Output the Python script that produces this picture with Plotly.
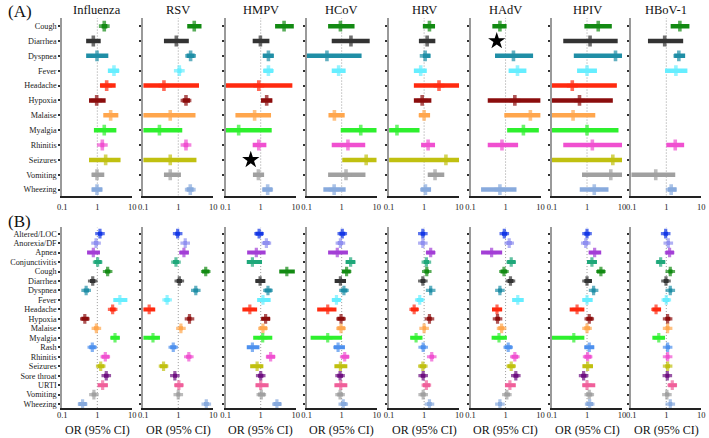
import plotly.graph_objects as go

viruses = ["Influenza", "RSV", "HMPV", "HCoV", "HRV", "HAdV", "HPIV", "HBoV-1"]

symptoms_a = ["Cough", "Diarrhea", "Dyspnea", "Fever", "Headache", "Hypoxia", "Malaise",
              "Myalgia", "Rhinitis", "Seizures", "Vomiting", "Wheezing"]
symptoms_b = ["Altered/LOC", "Anorexia/DF", "Apnea", "Conjunctivitis", "Cough", "Diarrhea",
              "Dyspnea", "Fever", "Headache", "Hypoxia", "Malaise", "Myalgia", "Rash",
              "Rhinitis", "Seizures", "Sore throat", "URTI", "Vomiting", "Wheezing"]

colors = {
    "Altered/LOC": "#1438e6", "Anorexia/DF": "#8f8ff0", "Apnea": "#a33fd6",
    "Conjunctivitis": "#1fa87a", "Cough": "#138a13", "Diarrhea": "#333333",
    "Dyspnea": "#1f8ea6", "Fever": "#66eeff", "Headache": "#ff2a0f", "Hypoxia": "#8b0d0d",
    "Malaise": "#ffa64d", "Myalgia": "#2ef02e", "Rash": "#4d90ee", "Rhinitis": "#f050d0",
    "Seizures": "#c0c010", "Sore throat": "#6e0f80", "URTI": "#f0609a",
    "Vomiting": "#a0a0a0", "Wheezing": "#88aadd",
}

N = None
# Panel A: [OR, lower, upper] per symptom (order of symptoms_a); None = not shown
a_influenza = [[1.58, 1.33, 1.93], [0.77, 0.48, 1.25], [0.98, 0.48, 2.06], [2.99, 2.0, 4.16],
               [1.85, 1.19, 3.34], [0.96, 0.58, 1.73], [2.4, 1.48, 3.98], [1.58, 0.8, 3.49],
               [1.39, 1.22, 1.58], [1.73, 0.58, 4.6], [0.98, 0.69, 1.58], [0.98, 0.69, 1.39]]
a_rsv = [[2.86, 1.8, 4.6], [0.88, 0.39, 2.0], [2.25, 1.73, 2.93], [1.07, 0.94, 1.24],
         [0.39, 0.1, 3.9], [1.66, 1.33, 2.15], [0.59, 0.1, 3.1], [0.29, 0.1, 1.3],
         [1.66, 1.42, 1.93], [0.59, 0.1, 3.3], [0.59, 0.39, 1.19], [2.2, 1.73, 2.74]]
a_hmpv = [[4.64, 2.57, 8.8], [0.98, 0.59, 1.77], [1.66, 1.14, 2.35], [1.66, 1.19, 2.25],
          [0.88, 0.1, 8.0], [1.48, 1.02, 2.15], [0.67, 0.19, 1.97], [0.235, 0.1, 2.06],
          [0.88, 0.59, 1.45], N, [0.86, 0.6, 1.25], [1.58, 1.12, 2.15]]
a_hcov = [[0.92, 0.41, 2.33], [1.84, 0.52, 6.3], [0.38, 0.1, 3.7], [0.82, 0.52, 1.3],
          N, N, [0.62, 0.42, 1.22], [3.5, 0.94, 10.0],
          [1.51, 0.52, 4.7], [5.0, 1.04, 10.0], [1.33, 0.41, 4.77], [0.61, 0.3, 1.3]]
a_hrv = [[1.42, 0.92, 2.05], [1.22, 0.71, 2.09], [1.07, 0.92, 1.51], [0.8, 0.51, 1.19],
         [2.66, 0.51, 10.0], [0.88, 0.51, 1.61], [1.0, 0.71, 1.48], [0.168, 0.1, 0.74],
         [1.3, 0.82, 2.05], [4.19, 0.1, 10.0], [2.05, 1.27, 3.76], [1.09, 0.82, 1.58]]
a_hadv = [[0.69, 0.42, 1.07], N, [1.68, 0.5, 6.1], [2.19, 1.22, 3.93],
          N, [1.84, 0.31, 10.0], [5.1, 0.92, 10.0], [3.23, 1.11, 8.9],
          [0.79, 0.31, 2.28], N, N, [0.69, 0.2, 2.05]]
a_hpiv = [[2.09, 0.84, 5.1], [1.22, 0.21, 7.5], [6.5, 0.42, 10.0], [1.0, 0.52, 1.92],
          [0.38, 0.1, 7.1], [0.61, 0.1, 5.45], [0.4, 0.1, 1.72], [1.0, 0.1, 7.9],
          [1.42, 0.21, 10.0], [5.45, 0.1, 10.0], [4.77, 0.72, 10.0], [1.61, 0.62, 4.1]]
a_hbov = [[2.44, 1.33, 4.57], [0.9, 0.3, 3.03], [2.28, 1.68, 3.45], [1.88, 0.92, 4.0],
          N, N, N, N, [1.8, 1.0, 3.23], N, [0.5, 0.1, 1.8], [1.38, 1.11, 1.96]]

# Stars (no estimate): (virus index, symptom, x position)
star_virus = [2, 5]
star_symptom = ["Seizures", "Diarrhea"]
star_x = [0.52, 0.56]

# Panel B
b_influenza = [[1.19, 1.04, 1.39], [0.92, 0.8, 1.07], [0.77, 0.51, 1.19], [1.02, 0.82, 1.33],
               [1.97, 1.66, 2.35], [0.74, 0.62, 0.88], [0.48, 0.41, 0.58], [4.4, 2.86, 7.2],
               [2.74, 2.3, 3.34], [0.44, 0.35, 0.57], [0.94, 0.8, 1.09], [3.2, 2.4, 4.35],
               [0.72, 0.59, 0.9], [1.69, 1.33, 2.2], [1.25, 1.02, 1.58], [1.8, 1.55, 2.1],
               [1.42, 1.02, 2.0], [0.8, 0.69, 0.94], [0.38, 0.29, 0.5]]
b_rsv = [[0.96, 0.82, 1.11], [1.58, 1.41, 1.76], [1.45, 1.09, 2.0], [0.86, 0.71, 1.04],
         [6.07, 4.77, 7.7], [1.07, 0.9, 1.27], [3.16, 2.7, 3.68], [0.48, 0.4, 0.57],
         [0.148, 0.1, 0.22], [2.09, 1.8, 2.38], [1.19, 1.04, 1.36], [0.19, 0.1, 0.3],
         [0.72, 0.59, 0.88], [2.0, 1.68, 2.38], [0.38, 0.3, 0.49], [0.8, 0.71, 0.92],
         [1.04, 0.79, 1.38], [1.0, 0.88, 1.14], [6.3, 5.4, 7.4]]
b_hmpv = [[0.9, 0.71, 1.16], [1.45, 1.16, 1.8], [0.75, 0.41, 1.38], [0.58, 0.4, 1.09],
          [5.56, 3.38, 9.4], [0.96, 0.71, 1.36], [1.61, 1.3, 2.05], [1.16, 0.79, 1.92],
          [0.49, 0.3, 0.79], [1.38, 1.04, 1.84], [1.16, 0.92, 1.51], [1.14, 0.61, 2.14],
          [0.58, 0.4, 0.92], [1.92, 1.45, 2.55], [0.79, 0.5, 1.19], [1.0, 0.84, 1.19],
          [1.0, 0.71, 1.68], [1.04, 0.84, 1.33], [2.9, 2.3, 3.84]]
b_hcov = [[1.04, 0.86, 1.27], [0.92, 0.77, 1.09], [0.75, 0.41, 1.51], [1.8, 1.3, 2.44],
          [1.38, 1.02, 1.8], [0.92, 0.63, 1.33], [1.16, 0.94, 1.45], [0.71, 0.53, 0.94],
          [0.4, 0.2, 0.71], [0.96, 0.75, 1.22], [0.96, 0.75, 1.24], [0.4, 0.13, 1.02],
          [0.79, 0.6, 1.24], [1.22, 0.98, 1.61], [0.92, 0.62, 1.45], [0.9, 0.75, 1.09],
          [0.94, 0.62, 1.45], [0.9, 0.75, 1.09], [1.11, 0.94, 1.38]]
b_hrv = [[0.92, 0.8, 1.07], [0.92, 0.8, 1.04], [1.54, 1.14, 2.05], [1.16, 0.98, 1.38],
         [1.19, 1.02, 1.38], [0.92, 0.79, 1.09], [1.54, 1.38, 1.72], [0.75, 0.61, 0.94],
         [0.52, 0.42, 0.68], [1.42, 1.22, 1.65], [1.0, 0.9, 1.14], [0.59, 0.4, 0.9],
         [0.94, 0.8, 1.11], [1.65, 1.42, 1.92], [0.92, 0.74, 1.14], [0.94, 0.8, 1.09],
         [1.16, 0.92, 1.48], [0.94, 0.79, 1.11], [1.42, 1.22, 1.65]]
b_hadv = [[0.92, 0.79, 1.11], [1.27, 1.07, 1.51], [0.4, 0.2, 0.8], [1.45, 1.11, 1.92],
          [0.9, 0.72, 1.11], [1.38, 1.14, 1.68], [0.69, 0.61, 0.79], [2.23, 1.54, 3.3],
          [0.57, 0.41, 0.8], [0.59, 0.51, 0.69], [0.77, 0.62, 0.92], [0.65, 0.4, 1.09],
          [1.19, 0.94, 1.51], [1.84, 1.48, 2.28], [1.45, 1.14, 1.84], [1.96, 1.68, 2.33],
          [1.33, 0.96, 1.96], [1.09, 0.92, 1.33], [0.69, 0.61, 0.79]]
b_hpiv = [[1.0, 0.84, 1.19], [0.92, 0.77, 1.09], [1.65, 1.11, 2.54], [1.38, 1.0, 1.92],
          [2.49, 1.92, 3.23], [1.0, 0.84, 1.38], [1.54, 1.35, 1.76], [1.0, 0.74, 1.45],
          [0.52, 0.32, 0.84], [1.16, 0.96, 1.45], [1.0, 0.84, 1.22], [0.42, 0.1, 0.84],
          [1.16, 0.84, 1.61], [1.04, 0.84, 1.33], [1.04, 0.74, 1.48], [0.8, 0.68, 0.96],
          [1.0, 0.74, 1.72], [1.16, 0.96, 1.42], [1.19, 0.96, 1.48]]
b_hbov = [[0.96, 0.84, 1.11], [1.14, 1.02, 1.27], [1.24, 0.96, 1.65], [0.69, 0.52, 0.92],
          [1.3, 1.14, 1.51], [0.98, 0.84, 1.16], [1.3, 1.16, 1.48], [1.0, 0.8, 1.24],
          [0.51, 0.4, 0.71], [1.09, 0.94, 1.3], [1.09, 0.96, 1.24], [0.61, 0.4, 0.92],
          [1.09, 0.96, 1.27], [1.09, 0.96, 1.24], [1.09, 0.94, 1.27], [1.07, 0.94, 1.22],
          [1.48, 1.14, 2.0], [1.04, 0.92, 1.22], [1.3, 1.16, 1.48]]

data_a = [a_influenza, a_rsv, a_hmpv, a_hcov, a_hrv, a_hadv, a_hpiv, a_hbov]
data_b = [b_influenza, b_rsv, b_hmpv, b_hcov, b_hrv, b_hadv, b_hpiv, b_hbov]
xticks = [0.1, 1, 10]
xticktext = ["0.1", "1", "10"]

# ---- layout geometry (pixels) ----
W, H = 709, 438
lefts = [58, 140, 223.5, 305.5, 389, 471.5, 554, 634.3]
pw = 71
secA = dict(top=18, bottom=196, rng=[11.4, -0.55], standoff=2, lw=4.5, ms=9)
secB = dict(top=228, bottom=409, rng=[18.42, -0.65], standoff=-2, lw=4, ms=8)
FONT = "Liberation Serif, Times New Roman, serif"

fig = go.Figure()

def px_x(v):
    return v / W

def px_y(v):
    return 1 - v / H

layout = {}
for s_i, (sec, data, syms) in enumerate([(secA, data_a, symptoms_a), (secB, data_b, symptoms_b)]):
    for k in range(8):
        n = s_i * 8 + k + 1
        xa = "x" if n == 1 else f"x{n}"
        ya = "y" if n == 1 else f"y{n}"
        # reference line at OR = 1
        fig.add_trace(go.Scatter(x=[1, 1], y=[sec["rng"][0], sec["rng"][1]], mode="lines",
                                 line=dict(color="#9a9a9a", width=1, dash="1px,2px"),
                                 xaxis=xa, yaxis=ya, showlegend=False, hoverinfo="skip"))
        for i, sym in enumerate(syms):
            rec = data[k][i]
            if rec is None:
                continue
            orv, lo, hi = rec
            fig.add_trace(go.Scatter(
                x=[lo, orv, hi], y=[i, i, i], mode="lines+markers",
                line=dict(color=colors[sym], width=sec["lw"]),
                marker=dict(symbol="cross", size=[0, sec["ms"], 0], color=colors[sym],
                            line=dict(width=0)),
                xaxis=xa, yaxis=ya, showlegend=False))
        if s_i == 0:
            for vi, sym, sx in zip(star_virus, star_symptom, star_x):
                if vi == k:
                    fig.add_trace(go.Scatter(x=[sx], y=[symptoms_a.index(sym)], mode="markers",
                                             marker=dict(symbol="star", size=13, color="black"),
                                             xaxis=xa, yaxis=ya, showlegend=False))
        key_x = "xaxis" if n == 1 else f"xaxis{n}"
        key_y = "yaxis" if n == 1 else f"yaxis{n}"
        layout[key_x] = dict(
            type="log", range=[-1, 1], domain=[px_x(lefts[k]), px_x(lefts[k] + pw)],
            anchor=ya, tickvals=xticks, ticktext=xticktext, showgrid=False, zeroline=False,
            showline=True, linecolor="#222222", linewidth=2, ticks="",
            ticklabelstandoff=sec["standoff"],
            tickfont=dict(family=FONT, size=8.5, color="#222"))
        layout[key_y] = dict(
            range=sec["rng"], domain=[px_y(sec["bottom"]), px_y(sec["top"])], anchor=xa,
            tickvals=list(range(len(syms))), ticktext=syms, showticklabels=(k == 0),
            showgrid=False, zeroline=False, showline=True, linecolor="#9a9a9a", linewidth=2,
            ticks="outside", ticklen=2, tickwidth=1.5, tickcolor="#333",
            tickfont=dict(family=FONT, size=8.2, color="#222"))

annotations = []
for k, v in enumerate(viruses):
    annotations.append(dict(text=v, x=px_x(lefts[k] + pw / 2), y=px_y(10), xref="paper",
                            yref="paper", showarrow=False, xanchor="center", yanchor="middle",
                            font=dict(family=FONT, size=12.5, color="#111")))
    annotations.append(dict(text="OR (95% CI)", x=px_x(lefts[k] + pw / 2), y=px_y(431),
                            xref="paper", yref="paper", showarrow=False, xanchor="center",
                            yanchor="middle", font=dict(family=FONT, size=12, color="#111")))
annotations.append(dict(text="(A)", x=px_x(1), y=px_y(12), xref="paper", yref="paper",
                        showarrow=False, xanchor="left", yanchor="middle",
                        font=dict(family=FONT, size=17, color="#111")))
annotations.append(dict(text="(B)", x=px_x(1), y=px_y(222), xref="paper", yref="paper",
                        showarrow=False, xanchor="left", yanchor="middle",
                        font=dict(family=FONT, size=17, color="#111")))

fig.update_layout(width=W, height=H, margin=dict(l=0, r=0, t=0, b=0),
                  plot_bgcolor="white", paper_bgcolor="white", showlegend=False,
                  annotations=annotations, **layout)

fig.write_html("out.html", config={"displayModeBar": False},
               post_script="document.body.style.margin='0';document.body.style.overflow='hidden';")
